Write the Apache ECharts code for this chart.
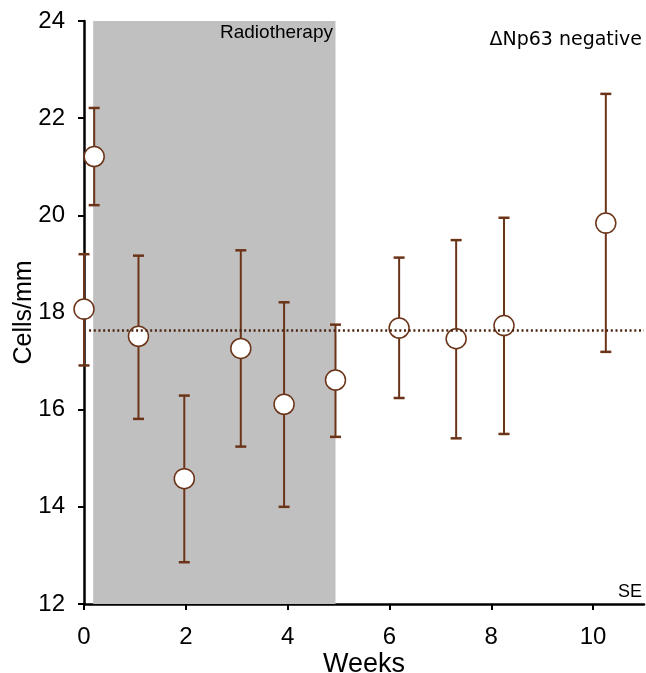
<!DOCTYPE html>
<html><head><meta charset="utf-8">
<script src="https://cdn.jsdelivr.net/npm/echarts@6/dist/echarts.min.js"></script>
<style>html,body{margin:0;padding:0;background:#fff}#c{width:646px;height:673px}</style>
</head><body><div id="c"></div>
<script>
const weeks = [0, 0.2, 1.07, 1.97, 3.08, 3.93, 4.94, 6.19, 7.31, 8.25, 10.25];
const means = [18.07, 21.21, 17.51, 14.58, 17.26, 16.11, 16.61, 17.68, 17.46, 17.73, 19.84];
const upper = [19.2, 22.21, 19.17, 16.29, 19.28, 18.21, 17.75, 19.13, 19.49, 19.95, 22.5];
const lower = [16.91, 20.21, 15.81, 12.86, 15.24, 14.0, 15.44, 16.24, 15.41, 15.5, 17.19];
const xTicks = [0, 2, 4, 6, 8, 10];
const yTicks = [12, 14, 16, 18, 20, 22, 24];
const refLevel = 17.64;
const refRange = [0.1, 11];
const radiotherapy = [0.18, 4.94];

const brown = '#6b3418';
const chart = echarts.init(document.getElementById('c'), null, {renderer: 'canvas'});
const option = {
  animation: false,
  backgroundColor: '#fff',
  grid: {left: 84, right: 2, top: 21, bottom: 69, containLabel: false, outerBoundsMode: 'none'},
  xAxis: {
    type: 'value', min: 0, max: 11, interval: 2,
    axisLine: {show: true, onZero: false, lineStyle: {color: '#000', width: 2.5}},
    axisTick: {show: true, length: 6, customValues: xTicks, lineStyle: {color: '#000', width: 2}},
    axisLabel: {customValues: xTicks, fontSize: 24, color: '#000', fontFamily: 'Liberation Sans', margin: 21},
    splitLine: {show: false},
    name: 'Weeks', nameLocation: 'middle', nameGap: 47, nameMoveOverlap: false,
    nameTextStyle: {fontSize: 27, color: '#000', fontFamily: 'Liberation Sans'}
  },
  yAxis: {
    type: 'value', min: 12, max: 24, interval: 2,
    axisLine: {show: true, onZero: false, lineStyle: {color: '#000', width: 2.5}},
    axisTick: {show: true, length: 6, customValues: yTicks, lineStyle: {color: '#000', width: 2}},
    axisLabel: {customValues: yTicks, fontSize: 24, color: '#000', fontFamily: 'Liberation Sans', margin: 19},
    splitLine: {show: false},
    name: 'Cells/mm', nameLocation: 'middle', nameGap: 47, nameMoveOverlap: false,
    nameTextStyle: {fontSize: 25, color: '#000', fontFamily: 'Liberation Sans'}
  },
  series: [
    {
      type: 'line', data: [], z: 0, silent: true,
      markArea: {
        silent: true,
        itemStyle: {color: '#c0c0c0', opacity: 1},
        data: [[{xAxis: radiotherapy[0], yAxis: 12}, {xAxis: radiotherapy[1], yAxis: 24}]]
      },
      markLine: {
        silent: true, symbol: 'none', label: {show: false},
        lineStyle: {type: [2, 2.7], width: 2.5, color: '#4a2410'},
        data: [[{coord: [refRange[0], refLevel]}, {coord: [refRange[1], refLevel]}]]
      }
    },
    {
      type: 'custom', z: 3,
      data: weeks.map((w, i) => [w, lower[i], upper[i]]),
      encode: {x: 0, y: [1, 2]},
      renderItem: (params, api) => {
        const x = api.value(0), lo = api.value(1), hi = api.value(2);
        const p1 = api.coord([x, hi]), p2 = api.coord([x, lo]);
        const hw = 5.5;
        const style = {stroke: brown, lineWidth: 2};
        return {type: 'group', children: [
          {type: 'line', shape: {x1: p1[0], y1: p1[1], x2: p2[0], y2: p2[1]}, style},
          {type: 'line', shape: {x1: p1[0] - hw, y1: p1[1], x2: p1[0] + hw, y2: p1[1]}, style: {stroke: brown, lineWidth: 2.5}},
          {type: 'line', shape: {x1: p2[0] - hw, y1: p2[1], x2: p2[0] + hw, y2: p2[1]}, style: {stroke: brown, lineWidth: 2.5}}
        ]};
      }
    },
    {
      type: 'scatter', z: 4,
      data: weeks.map((w, i) => [w, means[i]]),
      symbol: 'circle', symbolSize: 20,
      itemStyle: {color: '#fff', borderColor: brown, borderWidth: 1.5, opacity: 1}
    }
  ],
  graphic: [
    {type: 'text', x: 333, y: 33, z: 10, style: {text: 'Radiotherapy', align: 'right', verticalAlign: 'middle', fontSize: 19, fontFamily: 'Liberation Sans', fill: '#000'}},
    {type: 'text', x: 642, y: 40, z: 10, style: {text: '\u0394Np63 negative', align: 'right', verticalAlign: 'middle', fontSize: 19, fontFamily: 'DejaVu Sans', fill: '#000'}},
    {type: 'text', x: 642, y: 592, z: 10, style: {text: 'SE', align: 'right', verticalAlign: 'middle', fontSize: 18, fontFamily: 'Liberation Sans', fill: '#000'}}
  ]
};
chart.setOption(option);
</script>
</body></html>
